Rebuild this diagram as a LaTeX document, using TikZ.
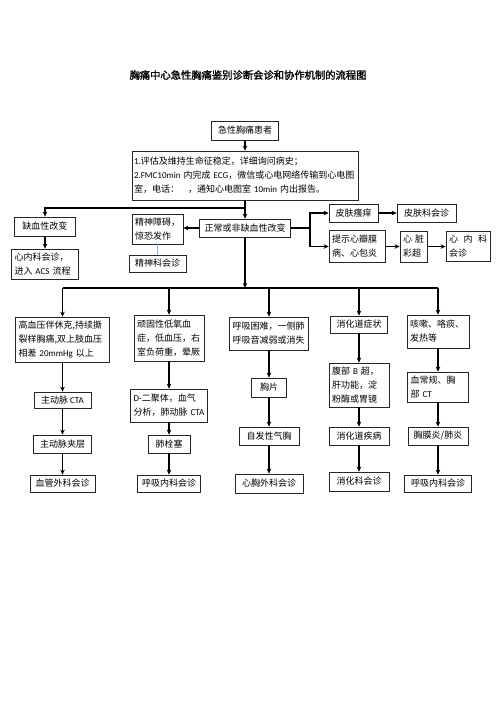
\documentclass[tikz,border=0pt]{standalone}
\usepackage{fontspec}
\setmainfont{Noto Sans CJK SC}
\newfontfamily\latfont{Carlito}
\newfontfamily\titlefont[FakeBold=1.5]{Noto Sans CJK SC}
\newcommand{\en}[1]{{\latfont #1}}
\usetikzlibrary{arrows.meta, positioning, calc}
\definecolor{linkblue}{RGB}{140,180,215}

\begin{document}
\begin{tikzpicture}[x=1pt, y=-1pt,
  box/.style={draw=black!85, line width=0.7pt, inner xsep=3pt, inner ysep=1pt,
              font=\fontsize{9}{14}\selectfont, align=left},
  cbox/.style={box, align=center},
  title/.style={font=\titlefont\fontsize{10.3}{12}\selectfont},
  arr/.style={-{Stealth[length=5pt, width=4.5pt]}, line width=1.1pt},
  bus/.style={line width=1.1pt},
  soft/.style={draw=linkblue, line width=0.6pt},
]
  \path[use as bounding box, fill=white] (0,0) rectangle (496,702);

  % ── Title ──
  \node[title] (head) at (248,75) {胸痛中心急性胸痛鉴别诊断会诊和协作机制的流程图};

  % ── Top: patient and first assessment ──
  \node[cbox, minimum width=67pt, minimum height=19pt] (start) at (245,130.5) {急性胸痛患者};
  \node[box, inner xsep=2pt, text width=222pt, minimum height=49pt] (eval) at (245,175.5)
    {\en{1.}评估及维持生命征稳定，详细询问病史；\\
     \mbox{\en{2.FMC10min} 内完成 \en{ECG}，微信或心电网络传输到心电图}\\
     室，电话：\quad，通知心电图室 \en{10min} 内出报告。};

  % ── Row 1: ECG result ──
  \node[cbox, minimum width=61pt, minimum height=19pt] (isch) at (45,226.5) {缺血性改变};
  \node[box, text width=61pt, minimum height=30pt] (acs) at (45,264) {心内科会诊，\\进入 \en{ACS} 流程};
  \node[box, text width=45pt, minimum height=30pt] (mental) at (157.5,229) {精神障碍，\\惊恐发作};
  \node[cbox, minimum width=57pt, minimum height=17pt] (mentalc) at (157.5,263.5) {精神科会诊};
  \node[cbox, minimum width=91pt, minimum height=18pt] (normal) at (245,228) {正常或非缺血性改变};

  % ── Right branch: skin / valve ──
  \node[cbox, minimum width=49pt, minimum height=18pt] (itch) at (353.5,213) {皮肤瘙痒};
  \node[cbox, minimum width=59pt, minimum height=18pt] (itchc) at (426.5,213) {皮肤科会诊};
  \node[box, text width=50pt, minimum height=32pt] (valve) at (357,246.5) {提示心瓣膜\\病、心包炎};
  \node[box, text width=21pt, minimum height=31pt] (echo) at (413.5,246.5) {心\hfill 脏\\彩超};
  \node[box, text width=38pt, minimum height=30pt] (cardc) at (468,246.5) {心\hfill 内\hfill 科\\会诊};

  % ── Five columns: symptoms ──
  \node[box, text width=88pt, minimum height=45pt] (r1a) at (62.5,339.5)
    {高血压伴休克,持续撕\\裂样胸痛,双上肢血压\\相差 \en{20mmHg} 以上};
  \node[box, text width=64pt, minimum height=46pt] (r1b) at (169,338)
    {顽固性低氧血\\症，低血压，右\\室负荷重，晕厥};
  \node[box, text width=73pt, minimum height=33pt] (r1c) at (269,333.5)
    {呼吸困难，一侧肺\\呼吸音减弱或消失};
  \node[cbox, minimum width=57pt, minimum height=17pt] (r1d) at (359,324.5) {消化道症状};
  \node[box, text width=56pt, minimum height=33pt] (r1e) at (438,331.5) {咳嗽、咯痰、\\发热等};

  % ── Examinations ──
  \node[cbox, minimum width=57pt, minimum height=16pt] (r2a) at (62.5,400) {主动脉 \en{CTA}};
  \node[box, text width=71pt, minimum height=33pt] (r2b) at (169,405.5)
    {\en{D-}二聚体，血气\\分析，肺动脉 \en{CTA}};
  \node[cbox, minimum width=35pt, minimum height=19pt] (r2c) at (269,387.5) {胸片};
  \node[box, text width=54pt, minimum height=44pt] (r2d) at (359,385)
    {腹部 \en{B} 超，\\肝功能，淀\\粉酶或胃镜};
  \node[box, text width=55pt, minimum height=30pt] (r2e) at (438,387) {血常规、胸\\部 \en{CT}};

  % ── Diagnoses ──
  \node[cbox, minimum width=58pt, minimum height=18pt] (r3a) at (62.5,444) {主动脉夹层};
  \node[cbox, minimum width=42pt, minimum height=18pt] (r3b) at (169,444) {肺栓塞};
  \node[cbox, minimum width=60pt, minimum height=18pt] (r3c) at (269,436) {自发性气胸};
  \node[cbox, minimum width=60pt, minimum height=18pt] (r3d) at (359,436) {消化道疾病};
  \node[cbox, minimum width=60pt, minimum height=18pt] (r3e) at (438,436) {胸膜炎/肺炎};

  % ── Consultations ──
  \node[cbox, minimum width=65pt, minimum height=17pt] (r4a) at (62.5,483.5) {血管外科会诊};
  \node[cbox, minimum width=63pt, minimum height=17pt] (r4b) at (169,483.5) {呼吸内科会诊};
  \node[cbox, minimum width=68pt, minimum height=19pt] (r4c) at (269,483.5) {心胸外科会诊};
  \node[cbox, minimum width=60pt, minimum height=19pt] (r4d) at (359,481.5) {消化科会诊};
  \node[cbox, minimum width=67pt, minimum height=17pt] (r4e) at (438,483.5) {呼吸内科会诊};

  % ══ Arrows ══
  \coordinate (split) at (245,208);
  \coordinate (fork) at (310,228);
  \coordinate (bus) at (245,288);

  \draw[arr] (start) -- (eval);
  \draw[arr] (eval.south) -- (normal.north);
  \draw[arr] (split) -| (isch.north);
  \draw[arr] (isch) -- (acs);
  \draw[arr] (normal.west) -- (normal.west -| mental.east);
  \draw[soft] (mental) -- (mentalc);

  % right branch
  \draw[bus] (normal.east) -- (fork);
  \draw[arr] (fork) |- (itch.west);
  \draw[arr] (fork) |- (valve.west);
  \draw[arr] (itch) -- (itchc);
  \draw[arr] (valve) -- (echo);
  \draw[arr] (echo) -- (cardc);

  % down to the five columns
  \draw[arr] (normal.south) -- (bus);
  \draw[bus] (r1a.north |- bus) -- (r1e.north |- bus);
  \foreach \c in {a,b,c,d,e} {
    \draw[arr] (r1\c.north |- bus) -- (r1\c.north);
    \draw[arr] (r1\c) -- (r2\c);
    \draw[arr] (r2\c) -- (r3\c);
    \draw[arr] (r3\c) -- (r4\c);
  }
\end{tikzpicture}
\end{document}
